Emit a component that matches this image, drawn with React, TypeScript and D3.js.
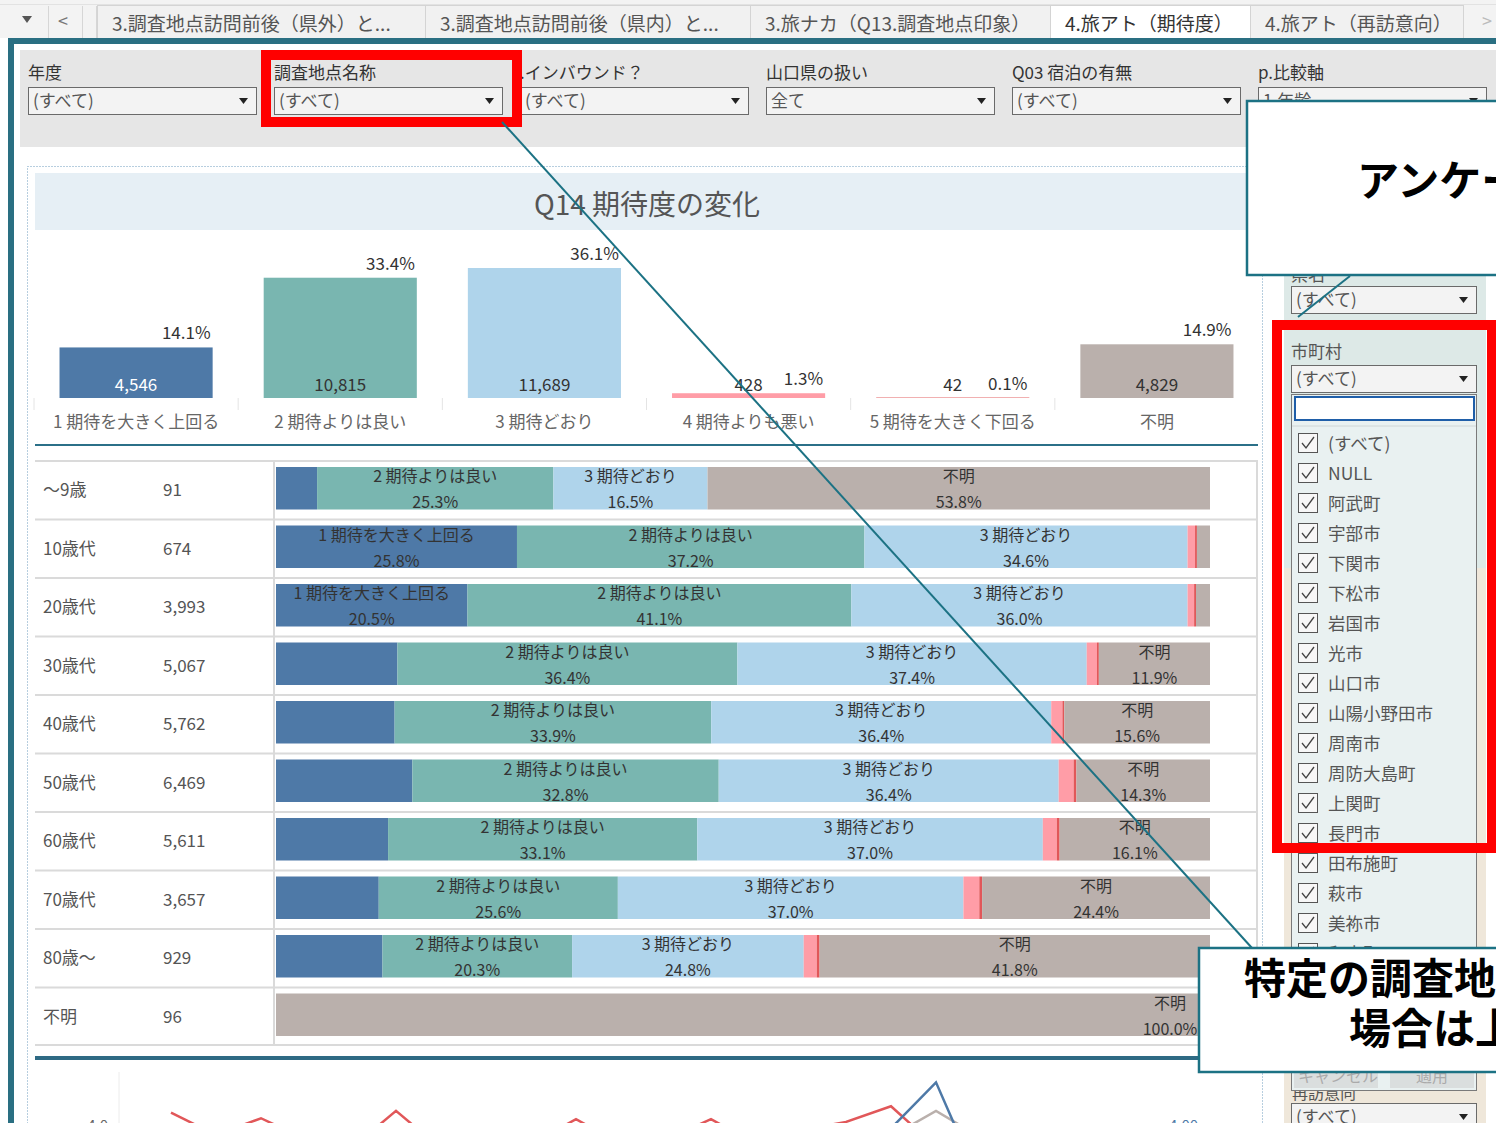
import React from "react";
import * as d3 from "d3";

const W = 1496;
const H = 1123;
const JP = '"Noto Sans CJK JP", "Noto Sans", sans-serif';

// tabs & filters
const tabLabels = [
  "3.調査地点訪問前後（県外）と...",
  "3.調査地点訪問前後（県内）と...",
  "3.旅ナカ（Q13.調査地点印象）",
  "4.旅アト（期待度）",
  "4.旅アト（再訪意向）"
];
const tabEdges = [97, 425, 750, 1050, 1250, 1463];
const activeTab = 3;
const filterLabels = ["年度", "調査地点名称", "県.インバウンド？", "山口県の扱い", "Q03 宿泊の有無", "p.比較軸"];
const filterValues = ["(すべて)", "(すべて)", "(すべて)", "全て", "(すべて)", "1.年齢"];

// Q14 categories
const categories = [
  "1 期待を大きく上回る",
  "2 期待よりは良い",
  "3 期待どおり",
  "4 期待よりも悪い",
  "5 期待を大きく下回る",
  "不明"
];
const categoryTotals = [4546, 10815, 11689, 428, 42, 4829];
const categoryColors = ["#4e79a7", "#79b6b0", "#afd4eb", "#ff9da7", "#e15759", "#bab0ac"];

// by age group (% of row)
const ageGroups = ["〜9歳", "10歳代", "20歳代", "30歳代", "40歳代", "50歳代", "60歳代", "70歳代", "80歳〜", "不明"];
const ageCounts = [91, 674, 3993, 5067, 5762, 6469, 5611, 3657, 929, 96];
const pctExceeded = [4.4, 25.8, 20.5, 13.0, 12.7, 14.6, 12.0, 11.0, 11.4, 0];
const pctBetter = [25.3, 37.2, 41.1, 36.4, 33.9, 32.8, 33.1, 25.6, 20.3, 0];
const pctAsExpected = [16.5, 34.6, 36.0, 37.4, 36.4, 36.4, 37.0, 37.0, 24.8, 0];
const pctWorse = [0, 0.8, 0.7, 1.1, 1.2, 1.6, 1.5, 1.7, 1.4, 0];
const pctMuchWorse = [0, 0.2, 0.2, 0.2, 0.2, 0.3, 0.3, 0.3, 0.3, 0];
const pctUnknown = [53.8, 1.4, 1.5, 11.9, 15.6, 14.3, 16.1, 24.4, 41.8, 100];
const shareSeries = [pctExceeded, pctBetter, pctAsExpected, pctWorse, pctMuchWorse, pctUnknown];

// trend chart (only its top edge is on screen)
const trendRed = [4.09, 3.85, 4.03, 3.8, 3.7, 4.11, 3.7, 3.8, 3.75, 4.02, 3.75, 3.8, 4.02, 3.75, 3.9, 3.99, 4.16, 3.72, 3.85, 3.9, 3.88, 3.92, 3.86];
const trendBlue = [3.7, 3.62, 3.75, 3.68, 3.72, 3.8, 3.66, 3.74, 3.7, 3.78, 3.69, 3.73, 3.76, 3.71, 3.77, 3.82, 3.92, 4.42, 3.3, 3.65, 3.72, 3.68, 3.75];
const trendGray = [3.75, 3.7, 3.78, 3.72, 3.76, 3.8, 3.74, 3.77, 3.73, 3.79, 3.72, 3.76, 3.78, 3.74, 3.8, 3.78, 3.83, 4.11, 3.82, 3.78, 3.75, 3.8, 3.77];

// right-hand filter list
const cityList = ["(すべて)", "NULL", "阿武町", "宇部市", "下関市", "下松市", "岩国市", "光市", "山口市", "山陽小野田市", "周南市", "周防大島町", "上関町", "長門市", "田布施町", "萩市", "美祢市", "和木町"];

const teal = "#1c7284";

function textWidth(s: string, fs: number) {
  let w = 0;
  for (const ch of s) w += ch.charCodeAt(0) > 0x2000 ? fs : fs * 0.56;
  return w;
}

function Dropdown({ x, y, w, value }: { x: number; y: number; w: number; value: string }) {
  return (
    <g>
      <rect x={x + 0.5} y={y + 0.5} width={w} height={27} fill="#f3f3f3" stroke="#6a6a6a" />
      <text x={x + 5} y={y + 20} fontSize={17} fill="#555">{value}</text>
      <path d={`M${x + w - 17},${y + 11} l9,0 l-4.5,6 z`} fill="#222" />
    </g>
  );
}

export default function App() {
  const grand = d3.sum(categoryTotals);
  const pf = d3.format(".1f");

  const topX = d3.scaleBand<string>().domain(categories).range([34, 1259]).paddingInner(0.25).paddingOuter(0.125);
  const topY = d3.scaleLinear().domain([0, d3.max(categoryTotals) as number]).range([398, 268]);

  const rows = ageGroups.map((g, i) => {
    const r: any = { group: g };
    categories.forEach((c, k) => (r[c] = shareSeries[k][i]));
    return r;
  });
  const stacked = d3.stack<any>().keys(categories)(rows);
  const rowY = d3.scaleBand<string>().domain(ageGroups).range([460, 1045]);
  const shareX = d3.scaleLinear().domain([0, 100]).range([276, 1210]);
  const bw = rowY.bandwidth();

  const lx = d3.scalePoint<number>().domain(d3.range(trendRed.length)).range([171, 1161]);
  const ly = d3.scaleLinear().domain([3.5, 4.5]).range([1167, 1075]);
  const line = d3.line<number>().x((_, i) => lx(i) as number).y(v => ly(v));
  const trends = [
    { values: trendGray, color: "#bab0ac" },
    { values: trendRed, color: "#e15759" },
    { values: trendBlue, color: "#4e79a7" }
  ];

  return (
    <svg
      width={W}
      height={H}
      viewBox={`0 0 ${W} ${H}`}
      style={{ position: "absolute", left: 0, top: 0, display: "block", background: "#fff" }}
      fontFamily={JP}
    >
      <defs>
        <clipPath id="trendClip">
          <rect x={120} y={1066} width={1140} height={60} />
        </clipPath>
        <clipPath id="inboundClip">
          <rect x={517} y={55} width={240} height={30} />
        </clipPath>
        <clipPath id="cancelClip">
          <rect x={1294} y={1066} width={84} height={22} />
        </clipPath>
        <clipPath id="listClip">
          <rect x={1290} y={390} width={190} height={700} />
        </clipPath>
      </defs>

      {/* tab strip */}
      <rect x={0} y={0} width={W} height={38} fill="#f3f3f3" />
      <line x1={0} x2={W} y1={4.5} y2={4.5} stroke="#e2e2e2" />
      <path d="M22,16 l10,0 l-5,7 z" fill="#555" />
      <text x={58} y={28} fontSize={18} fill="#777">&lt;</text>
      {[48, 82, 96].map(x => (
        <line key={x} x1={x + 0.5} x2={x + 0.5} y1={6} y2={38} stroke="#d6d6d6" />
      ))}
      {tabLabels.map((t, i) => (
        <g key={t}>
          <rect
            x={tabEdges[i] + 0.5}
            y={5.5}
            width={tabEdges[i + 1] - tabEdges[i]}
            height={33}
            fill={i === activeTab ? "#fff" : "#f1f1f1"}
            stroke="#d4d4d4"
          />
          <text x={tabEdges[i] + 15} y={31} fontSize={19} fill={i === activeTab ? "#333" : "#555"}>{t}</text>
        </g>
      ))}
      <text x={1482} y={28} fontSize={18} fill="#bbb">&gt;</text>

      {/* teal frame */}
      <rect x={8} y={38} width={W - 8} height={6} fill="#2a6f82" />
      <rect x={8} y={38} width={6} height={H - 38} fill="#2a6f82" />

      {/* filter bar */}
      <rect x={20} y={50} width={W - 20} height={97} fill="#e6e6e6" />
      {filterLabels.map((l, i) => {
        const x = 28 + i * 246;
        return (
          <g key={l}>
            <text
              x={i === 2 ? x - 17 : x}
              y={79}
              fontSize={17}
              fill="#333"
              clipPath={i === 2 ? "url(#inboundClip)" : undefined}
            >
              {l}
            </text>
            <Dropdown x={x} y={87} w={228} value={filterValues[i]} />
          </g>
        );
      })}

      {/* dashboard dotted frame */}
      <rect x={27.5} y={166.5} width={1235} height={1000} fill="none" stroke="#6f9cbf" strokeDasharray="1 2" />

      {/* title */}
      <rect x={35} y={173} width={1215} height={57} fill="#e6eff5" />
      <text x={647} y={215} textAnchor="middle" fontSize={28} fill="#555">Q14 期待度の変化</text>

      {/* top bar chart */}
      {categories.map((c, i) => {
        const x0 = topX(c) as number;
        const w = topX.bandwidth();
        const top = topY(categoryTotals[i]);
        const step = topX.step();
        return (
          <g key={c}>
            <rect x={x0} y={top} width={w} height={398 - top} fill={categoryColors[i]} />
            <line
              x1={x0 - (step - w) / 2}
              x2={x0 - (step - w) / 2}
              y1={398}
              y2={410}
              stroke="#e4e4e4"
            />
            <text x={x0 + w / 2} y={391} textAnchor="middle" fontSize={17} fill={i === 0 ? "#fff" : "#333"}>
              {d3.format(",")(categoryTotals[i])}
            </text>
            <text x={x0 + w - 2} y={top - 8} textAnchor="end" fontSize={17} fill="#333">
              {pf((categoryTotals[i] / grand) * 100)}%
            </text>
            <text x={x0 + w / 2} y={428} textAnchor="middle" fontSize={17} fill="#666">{c}</text>
          </g>
        );
      })}
      <line x1={35} x2={1258} y1={445} y2={445} stroke="#2b7088" strokeWidth={2} />

      {/* stacked bars by age */}
      {ageGroups.map((g, i) => (
        <g key={g}>
          <line x1={35} x2={1257} y1={(rowY(g) as number) + 1} y2={(rowY(g) as number) + 1} stroke="#dadada" strokeWidth={2} />
          <text x={43} y={(rowY(g) as number) + bw / 2 + 7} fontSize={17} fill="#555">{g}</text>
          <text x={163} y={(rowY(g) as number) + bw / 2 + 7} fontSize={17} fill="#555">{d3.format(",")(ageCounts[i])}</text>
        </g>
      ))}
      <line x1={35} x2={1257} y1={1045} y2={1045} stroke="#dadada" strokeWidth={2} />
      <line x1={274} x2={274} y1={460} y2={1045} stroke="#dadada" strokeWidth={2} />
      <line x1={1257} x2={1257} y1={460} y2={1045} stroke="#dadada" strokeWidth={2} />
      {stacked.map((s, k) => (
        <g key={s.key}>
          {s.map((d: any) => {
            const g = d.data.group;
            const x0 = shareX(d[0]);
            const x1 = shareX(d[1]);
            const top = (rowY(g) as number) + 7;
            const v = d[1] - d[0];
            if (v <= 0) return null;
            const fits = x1 - x0 >= textWidth(s.key, 16) + 4;
            const cx = v >= 99.9 ? x1 - 40 : (x0 + x1) / 2;
            return (
              <g key={g}>
                <rect x={x0} y={top} width={x1 - x0} height={bw - 16} fill={categoryColors[k]} />
                {fits && (
                  <>
                    <text x={cx} y={top + 15} textAnchor="middle" fontSize={16} fill="#333">{s.key}</text>
                    <text x={cx} y={top + 41} textAnchor="middle" fontSize={16} fill="#333">{pf(v)}%</text>
                  </>
                )}
              </g>
            );
          })}
        </g>
      ))}

      {/* trend chart */}
      <line x1={35} x2={1258} y1={1058} y2={1058} stroke="#2e6a84" strokeWidth={4} />
      <line x1={119} x2={119} y1={1072} y2={H} stroke="#ececec" />
      <text x={108} y={1131} textAnchor="end" fontSize={15} fill="#666">4.0</text>
      <text x={1169} y={1131} fontSize={15} fill="#4e79a7">4.00</text>
      <g clipPath="url(#trendClip)">
        {trends.map(t => (
          <path key={t.color} d={line(t.values) as string} fill="none" stroke={t.color} strokeWidth={2.5} />
        ))}
      </g>

      {/* right filter panel */}
      <rect x={1284} y={276} width={202} height={292} fill="#dde9e7" />
      <rect x={1284} y={568} width={202} height={H - 568} fill="#efe7da" />
      <text x={1291} y={281} fontSize={17} fill="#555">県名</text>
      <Dropdown x={1291} y={286} w={185} value="(すべて)" />
      <text x={1291} y={358} fontSize={17} fill="#555">市町村</text>
      <Dropdown x={1291} y={365} w={185} value="(すべて)" />
      <text x={1292} y={1099} fontSize={16} fill="#555">再訪意向</text>
      <rect x={1291.5} y={394.5} width={185} height={696} fill="#e9f1f1" stroke="#7a7a7a" />
      <rect x={1295} y={397} width={179} height={23} fill="#fff" stroke="#1f5ea8" strokeWidth={2} />
      <line x1={1292} x2={1476} y1={426} y2={426} stroke="#cfd6d6" />
      <g clipPath="url(#listClip)">
        {cityList.map((c, i) => {
          const cy = 443 + i * 30;
          return (
            <g key={c}>
              <rect x={1298.5} y={cy - 9.5} width={19} height={19} fill="#f7f7f7" stroke="#555" />
              <path d={`M${1302},${cy} l4,5 l8,-11`} fill="none" stroke="#444" strokeWidth={1.3} />
              <text x={1328} y={cy + 7} fontSize={17.5} fill="#555">{c}</text>
            </g>
          );
        })}
      </g>
      <rect x={1294} y={1066} width={84} height={22} fill="#dadede" />
      <text x={1298} y={1082} fontSize={16} fill="#aaa" clipPath="url(#cancelClip)">キャンセル</text>
      <rect x={1390} y={1066} width={84} height={22} fill="#dadede" />
      <text x={1432} y={1082} textAnchor="middle" fontSize={16} fill="#aaa">適用</text>
      <Dropdown x={1291} y={1103} w={185} value="(すべて)" />

      {/* highlight boxes */}
      <rect x={266} y={55} width={251} height={67} fill="none" stroke="#ff0000" strokeWidth={10} />
      <rect x={1277} y={325} width={215} height={523} fill="none" stroke="#ff0000" strokeWidth={10} />

      {/* connectors */}
      <line x1={502} y1={122} x2={1252} y2={948} stroke={teal} strokeWidth={2} />
      <line x1={1298} y1={317} x2={1350} y2={276} stroke={teal} strokeWidth={2} />

      {/* callouts */}
      <rect x={1247} y={101} width={270} height={174} fill="#fff" stroke={teal} strokeWidth={2.5} />
      <text x={1357} y={196} fontSize={42} fontWeight={700} fill="#000">アンケート</text>
      <rect x={1199} y={948} width={320} height={124} fill="#fff" stroke={teal} strokeWidth={2.5} />
      <text x={1244} y={994} fontSize={42} fontWeight={700} fill="#000">特定の調査地点</text>
      <text x={1349} y={1044} fontSize={42} fontWeight={700} fill="#000">場合は上の</text>
    </svg>
  );
}
